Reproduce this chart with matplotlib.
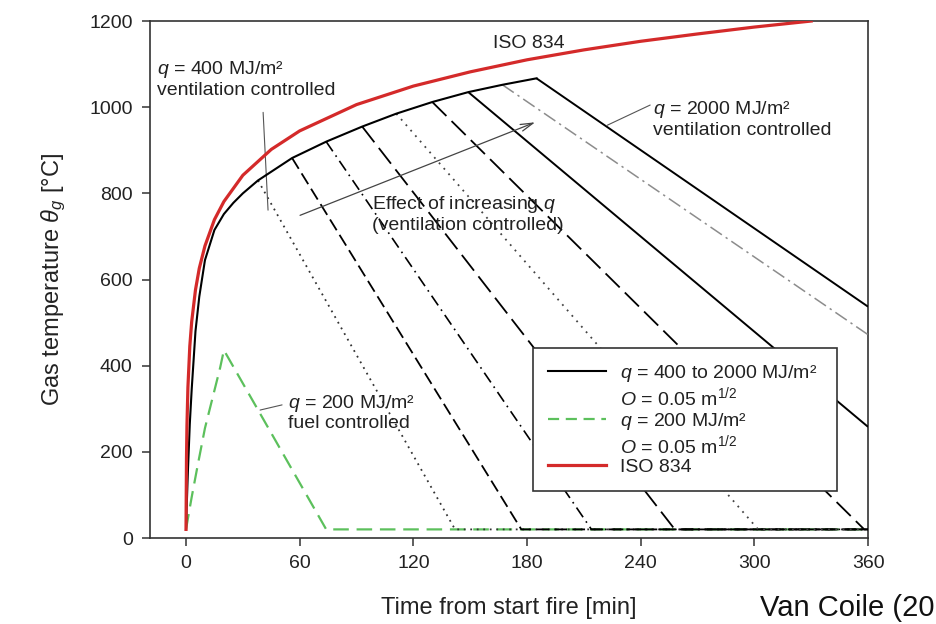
import matplotlib
matplotlib.use("Agg")
import matplotlib.pyplot as plt
from matplotlib.lines import Line2D

plt.rcParams["font.family"] = ["Liberation Sans", "DejaVu Sans"]
plt.rcParams["mathtext.fontset"] = "custom"
plt.rcParams["mathtext.rm"] = "Liberation Sans"
plt.rcParams["mathtext.it"] = "Liberation Sans:italic"
plt.rcParams["mathtext.bf"] = "Liberation Sans:bold"

# ISO 834 standard fire curve [min, °C]
iso_time = [0, 0.25, 0.5, 1, 2, 3, 5, 7, 10, 15, 20, 30, 45, 60, 90, 120, 150,
            180, 210, 240, 270, 300, 330]
iso_temp = [20, 185, 261, 349, 445, 502, 576, 626, 678, 739, 781, 842, 902, 945,
            1006, 1049, 1082, 1110, 1133, 1153, 1170, 1186, 1200]

# Common heating branch of the ventilation-controlled parametric fires (O = 0.05 m^1/2)
heat_time = [0, 0.5, 1, 2, 3, 5, 7, 10, 15, 20, 25, 30, 38, 56, 74, 93, 111, 130,
             149, 167, 185]
heat_temp = [20, 90, 155, 265, 345, 480, 560, 645, 715, 752, 778, 800, 830, 882,
             920, 955, 985, 1012, 1035, 1052, 1067]

# Decay branches for q = 400 ... 2000 MJ/m²
fire_loads = [400, 600, 800, 1000, 1200, 1400, 1600, 1800, 2000]
peak_time = [38, 56, 74, 93, 111, 130, 149, 167, 185]
peak_temp = [830, 882, 920, 955, 985, 1012, 1035, 1052, 1067]
end_time = [142, 177, 214, 258, 302, 358, 360, 360, 360]
end_temp = [20, 20, 20, 20, 20, 20, 258, 472, 537]

# Fuel-controlled fire, q = 200 MJ/m²
fuel_time = [0, 3, 6, 10, 14, 18, 20, 74, 360]
fuel_temp = [20, 95, 165, 255, 325, 395, 436, 20, 20]

ambient = 20
t_end = 360
x_ticks = [0, 60, 120, 180, 240, 300, 360]
y_ticks = [0, 200, 400, 600, 800, 1000, 1200]

decay_styles = [
    dict(ls=(0, (1, 2.6)), color="#333333", lw=1.3),
    dict(ls=(0, (7, 3)), color="black", lw=1.3),
    dict(ls=(0, (7, 3, 1, 3)), color="black", lw=1.2),
    dict(ls=(0, (11, 4)), color="black", lw=1.3),
    dict(ls=(0, (1, 3)), color="#444444", lw=1.3),
    dict(ls=(0, (11, 4)), color="black", lw=1.3),
    dict(ls="-", color="black", lw=1.4),
    dict(ls=(0, (9, 3, 1.5, 3)), color="#8c8c8c", lw=1.1),
    dict(ls="-", color="black", lw=1.4),
]

TEXT = "#222222"
fs = 14
fs_label = 17

fig = plt.figure(figsize=(9.37, 6.24), dpi=100)
ax = fig.add_axes([0.1601, 0.1378, 0.7663, 0.8285])

# fuel-controlled curve underneath
ax.plot(fuel_time, fuel_temp, color="#5cc05c", lw=1.6, ls=(0, (7, 3.5)), zorder=2)

# decay branches
for tp, Tp, te, Te, st in zip(peak_time, peak_temp, end_time, end_temp, decay_styles):
    xs = [tp, te]
    ys = [Tp, Te]
    if te < t_end:
        xs.append(t_end)
        ys.append(ambient)
    ax.plot(xs, ys, solid_capstyle="butt", zorder=3, **st)

# heating branch
ax.plot(heat_time, heat_temp, color="black", lw=1.5, zorder=4)

# ISO 834
ax.plot(iso_time, iso_temp, color="#d42a2a", lw=2.3, zorder=5)

ax.set_xlim(-19, 360)
ax.set_ylim(0, 1200)
ax.set_xticks(x_ticks)
ax.set_yticks(y_ticks)
ax.tick_params(axis="both", direction="out", length=5.5, width=1.1, pad=7,
               labelsize=fs, colors="#333333", labelcolor=TEXT,
               top=False, right=False)
for sp in ax.spines.values():
    sp.set_linewidth(1.2)
    sp.set_color("#333333")

ax.set_xlabel("Time from start fire [min]", fontsize=fs_label, color=TEXT)
ax.xaxis.set_label_coords(0.5, -0.115)
ax.set_ylabel(r"Gas temperature $\theta_g$ [°C]", fontsize=fs_label, color=TEXT)
ax.yaxis.set_label_coords(-0.114, 0.5)

lead = dict(arrowstyle="-", color="#555555", lw=0.8, shrinkA=0, shrinkB=0)

ax.text(-15.3, 1065, "$q$ = 400 MJ/m²\nventilation controlled", fontsize=fs,
        color=TEXT, ha="left", va="center", linespacing=1.15)
ax.annotate("", xy=(43.3, 761), xytext=(40.7, 988), arrowprops=lead)

ax.text(162, 1148, "ISO 834", fontsize=fs, color=TEXT, ha="left", va="center")

ax.text(246.6, 972, "$q$ = 2000 MJ/m²\nventilation controlled", fontsize=fs,
        color=TEXT, ha="left", va="center", linespacing=1.15)
ax.annotate("", xy=(222.3, 958), xytext=(245, 1005), arrowprops=lead)

ax.text(98.2, 753, "Effect of increasing $q$\n(ventilation controlled)", fontsize=fs,
        color=TEXT, ha="left", va="center", linespacing=1.15)
ax.annotate("", xy=(184.3, 965), xytext=(60.2, 749),
            arrowprops=dict(arrowstyle="->,head_length=0.9,head_width=0.25",
                            color="#444444", lw=0.9, shrinkA=0, shrinkB=0))

ax.text(53.9, 291, "$q$ = 200 MJ/m²\nfuel controlled", fontsize=fs,
        color=TEXT, ha="left", va="center", linespacing=1.1)
ax.annotate("", xy=(39.1, 297), xytext=(50.7, 309), arrowprops=lead)

blank = Line2D([], [], color="none")
handles = [
    Line2D([], [], color="black", lw=1.5),
    blank,
    Line2D([], [], color="#5cc05c", lw=1.6, ls=(0, (5, 3))),
    blank,
    Line2D([], [], color="#d42a2a", lw=2.3),
]
labels = [
    "$q$ = 400 to 2000 MJ/m²",
    "$O$ = 0.05 m$^{1/2}$",
    "$q$ = 200 MJ/m²",
    "$O$ = 0.05 m$^{1/2}$",
    "ISO 834",
]
leg = ax.legend(handles, labels, loc="upper left",
                bbox_to_anchor=(0.5334, 0.087, 0.4234, 0.2805), mode="expand",
                borderaxespad=0, fontsize=fs, frameon=True, fancybox=False,
                framealpha=1, edgecolor="#333333", handlelength=3.0,
                handletextpad=0.7, borderpad=0.75, labelspacing=0.08)
leg.get_frame().set_linewidth(1.2)
leg.set_zorder(10)
for t in leg.get_texts():
    t.set_color(TEXT)

fig.text(760 / 937, (624 - 616) / 624, "Van Coile (20", fontsize=21,
         color="#111111", ha="left", va="baseline")

fig.savefig("out.png", dpi=100)
